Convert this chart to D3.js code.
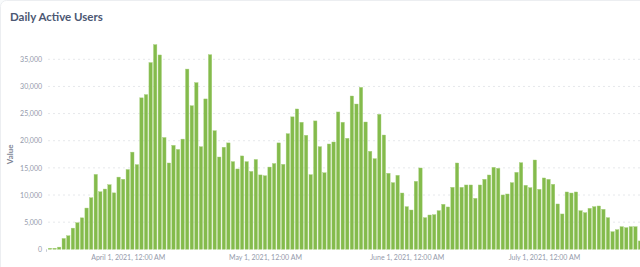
<!DOCTYPE html>
<html lang="en">
<head>
  <meta charset="utf-8">
  <title>Daily Active Users</title>
  <script src="https://d3js.org/d3.v7.min.js"></script>
  <style>
    body { margin: 0; background: #f9fbfc; }
    #chart text { font-family: Lato, "Open Sans", sans-serif; }
    .grid line { stroke: #e6e8eb; stroke-dasharray: 2,3; }
    .tick-label { fill: #949aab; font-size: 7px; }
  </style>
</head>
<body>
  <div id="chart"></div>

  <script>
    "use strict"

    // first day of the series, one bar per day
    var startDay = "2021-03-15";
    var users = [
      200, 200, 400, 2000, 2500, 3900, 4900, 5800, 7600, 9500, 13800, 10600, 11100, 11900, 10400, 13300, 12900,
      14700, 17900, 15600, 27900, 28500, 34400, 37700, 35800, 20600, 15900,
      19150, 18400, 20300, 33200, 26450, 30700, 18900, 27700, 35850, 21850, 17000, 18800, 19600, 16150, 14800,
      17200, 16150, 14350, 16550, 13700, 13550, 15150, 15800, 19600, 15650, 21300, 24400, 25850, 23400, 21000,
      13750, 23650, 18900, 14100, 19400,
      19770, 25300, 23400, 20450, 28240, 26760, 29830, 23450, 18050, 16700, 24860, 21050, 14000, 12280, 13630,
      10370, 7860, 7240, 12520, 14980, 5830, 6320, 6380, 7120, 8290, 7800, 11420, 15900, 11420, 11850, 11850,
      9390, 11850, 12900, 13690, 15100,
      14920, 10010, 10190, 12280, 14180, 15960, 11790, 11360, 16450, 11050, 13140, 12890, 11970, 8350, 6510,
      10560, 10370, 10560, 7120, 6750, 7550, 7860, 7980, 7370, 5830, 3250, 3620, 4170, 3990, 4170, 4170, 1540
    ];
    var yTicks = [0, 5000, 10000, 15000, 20000, 25000, 30000, 35000];
    var xTicks = ["2021-04-01", "2021-05-01", "2021-06-01", "2021-07-01"];

    var parse = d3.utcParse("%Y-%m-%d");
    var dados = users.map((v, i) => ({ dia: d3.utcDay.offset(parse(startDay), i), valor: v }));

    var larguraSVG = 640, alturaSVG = 267;

    var svg = d3.select('#chart')
      .append('svg')
        .attr('width', larguraSVG)
        .attr('height', alturaSVG);

    // card
    svg.append('rect')
      .attr('x', 0.5).attr('y', 0.5)
      .attr('width', larguraSVG + 20).attr('height', alturaSVG + 20)
      .attr('rx', 6)
      .attr('fill', '#fff')
      .attr('stroke', '#eceef1');

    svg.append('text')
      .attr('x', 10).attr('y', 20.5)
      .attr('fill', '#4c5773')
      .style('font-size', '11.5px')
      .style('font-weight', 700)
      .text('Daily Active Users');

    var x = d3.scaleUtc()
      .domain([dados[0].dia, dados[dados.length - 1].dia])
      .range([50, 640]);

    var y = d3.scaleLinear()
      .domain([0, 35000])
      .range([249.3, 59.3]);

    // grid
    svg.append('g').attr('class', 'grid')
      .selectAll('line')
      .data(yTicks.slice(1))
      .enter().append('line')
        .attr('x1', 48).attr('x2', larguraSVG)
        .attr('y1', d => y(d)).attr('y2', d => y(d));

    svg.append('g')
      .attr('transform', 'translate(44,0)')
      .call(d3.axisLeft(y).tickValues(yTicks).tickFormat(d3.format(',')).tickSize(0))
      .call(g => g.select('.domain').remove())
      .call(g => g.selectAll('text').attr('class', 'tick-label').attr('x', -2).attr('dy', '0.32em')
        .style('font-size', null).attr('font-size', null));

    var barW = 3.4;
    svg.append('g')
      .selectAll('rect')
      .data(dados)
      .enter().append('rect')
        .attr('x', d => x(d.dia) - barW / 2)
        .attr('y', d => y(d.valor))
        .attr('width', barW)
        .attr('height', d => y(0) - y(d.valor))
        .attr('fill', '#84bb4c')
        .attr('stroke', '#a7d07c')
        .attr('stroke-width', 0.4);

    svg.append('g')
      .attr('transform', 'translate(0,' + y(0) + ')')
      .call(d3.axisBottom(x)
        .tickValues(xTicks.map(parse))
        .tickFormat(d3.utcFormat('%B %-d, %Y, %-I:%M %p'))
        .tickSize(0))
      .call(g => g.select('.domain').remove())
      .call(g => g.selectAll('text').attr('class', 'tick-label').attr('y', 6).attr('dy', '0.71em'));

    svg.append('line')
      .attr('x1', 46.5).attr('x2', 46.5)
      .attr('y1', y(0)).attr('y2', y(0) + 2.5)
      .attr('stroke', '#c6cad3');

    svg.append('text')
      .attr('transform', 'translate(13,' + (y(0) + y(35000)) / 2 + ') rotate(-90)')
      .attr('text-anchor', 'middle')
      .attr('fill', '#7c8493')
      .style('font-size', '8px')
      .style('font-weight', 700)
      .text('Value');
  </script>
</body>
</html>
